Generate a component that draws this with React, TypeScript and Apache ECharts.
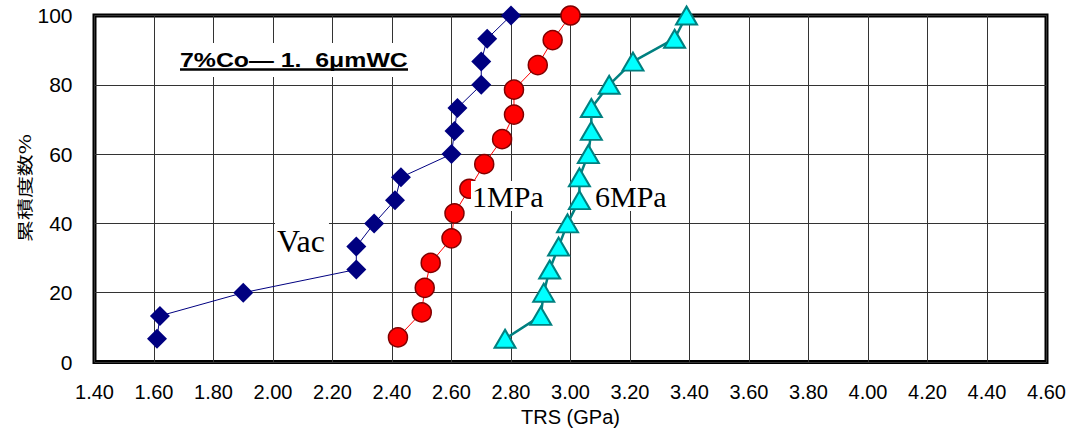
import React, { useEffect, useRef } from "react";
import * as echarts from "echarts";

// Tick labels
const xTicks = ["1.40", "1.60", "1.80", "2.00", "2.20", "2.40", "2.60", "2.80", "3.00", "3.20", "3.40", "3.60", "3.80", "4.00", "4.20", "4.40", "4.60"];
const yTicks = [0, 20, 40, 60, 80, 100];

// Vac series
const vacX = [1.61, 1.62, 1.90, 2.28, 2.28, 2.34, 2.41, 2.43, 2.60, 2.61, 2.62, 2.70, 2.70, 2.72, 2.80];
const vacY = [6.7, 13.3, 20.0, 26.7, 33.3, 40.0, 46.7, 53.3, 60.0, 66.7, 73.3, 80.0, 86.7, 93.3, 100];

// 1MPa series
const mpa1X = [2.42, 2.50, 2.51, 2.53, 2.60, 2.61, 2.66, 2.71, 2.77, 2.81, 2.81, 2.89, 2.94, 3.00];
const mpa1Y = [7.1, 14.3, 21.4, 28.6, 35.7, 42.9, 50.0, 57.1, 64.3, 71.4, 78.6, 85.7, 92.9, 100];

// 6MPa series
const mpa6X = [2.78, 2.90, 2.91, 2.93, 2.96, 2.99, 3.03, 3.03, 3.06, 3.07, 3.07, 3.13, 3.21, 3.35, 3.39];
const mpa6Y = [6.7, 13.3, 20.0, 26.7, 33.3, 40.0, 46.7, 53.3, 60.0, 66.7, 73.3, 80.0, 86.7, 93.3, 100];

const seriesNames = ["Vac", "1MPa", "6MPa"];
const titleText = "7%Co— 1.  6μmWC";
const yName = "累積度数%";
const xName = "TRS (GPa)";

const pair = (xs: number[], ys: number[]) => xs.map((x, i) => [x, ys[i]]);

function measure(text: string, font: string): number {
  const c = document.createElement("canvas").getContext("2d");
  if (!c) return text.length * 10;
  c.font = font;
  return c.measureText(text).width;
}

export default function App() {
  const ref = useRef<HTMLDivElement>(null);
  useEffect(() => {
    if (!ref.current) return;
    const chart = echarts.init(ref.current, null, { renderer: "svg" });
    const tickFont = '"Liberation Sans", sans-serif';
    const titleFont = 'bold 20px "Liberation Sans", sans-serif';
    const titleScale = 228 / measure(titleText, titleFont);
    const yNameFont = '16px "Noto Sans CJK JP", sans-serif';
    const yNameScale = 108 / measure(yName, yNameFont);
    chart.setOption({
      animation: false,
      backgroundColor: "#fff",
      grid: {
        left: 94.5,
        right: 25.5,
        top: 15.5,
        bottom: 70,
        show: true,
        borderColor: "#000",
        borderWidth: 4,
        backgroundColor: "transparent",
      },
      xAxis: {
        type: "value",
        min: 1.4,
        max: 4.6,
        interval: 0.2,
        name: xName,
        nameLocation: "middle",
        nameGap: 45,
        nameTextStyle: { fontFamily: '"Liberation Sans", sans-serif', fontSize: 20, color: "#000" },
        axisLine: { show: false },
        axisTick: { show: false },
        axisLabel: {
          margin: 20,
          color: "#000",
          fontSize: 20,
          fontFamily: tickFont,
          formatter: (v: number) => {
            const idx = Math.round((v - 1.4) / 0.2);
            return xTicks[idx] ?? v.toFixed(2);
          },
        },
        splitLine: { show: true, lineStyle: { color: "#333", width: 1 } },
      },
      yAxis: {
        type: "value",
        min: yTicks[0],
        max: yTicks[yTicks.length - 1],
        interval: 20,
        axisLine: { show: false },
        axisTick: { show: false },
        axisLabel: { margin: 22, color: "#000", fontSize: 21, fontFamily: tickFont },
        splitLine: { show: true, lineStyle: { color: "#333", width: 1 } },
      },
      series: [
        {
          name: seriesNames[0],
          type: "line",
          data: pair(vacX, vacY),
          symbol: "diamond",
          symbolSize: 20,
          showSymbol: true,
          itemStyle: { color: "#000080" },
          lineStyle: { color: "#000080", width: 1 },
          z: 3,
        },
        {
          name: seriesNames[1],
          type: "line",
          data: pair(mpa1X, mpa1Y),
          symbol: "circle",
          symbolSize: 19,
          showSymbol: true,
          itemStyle: { color: "#FF0000", borderColor: "#800000", borderWidth: 1.5 },
          lineStyle: { color: "#FF0000", width: 1 },
          z: 4,
        },
        {
          name: seriesNames[2],
          type: "line",
          data: pair(mpa6X, mpa6Y),
          symbol: "triangle",
          symbolSize: [21, 18],
          showSymbol: true,
          itemStyle: { color: "#00FFFF", borderColor: "#008080", borderWidth: 2 },
          lineStyle: { color: "#008080", width: 2.5 },
          z: 5,
        },
      ],
      graphic: [
        {
          type: "group",
          x: 24,
          y: 188,
          rotation: Math.PI / 2,
          children: [
            {
              type: "text",
              x: 0,
              y: 0,
              scaleX: yNameScale,
              style: {
                text: yName,
                font: yNameFont,
                fill: "#000",
                align: "center",
                verticalAlign: "middle",
              },
            },
          ],
        },
        {
          type: "rect",
          z: 99,
          shape: { x: 176, y: 43, width: 236, height: 34 },
          style: { fill: "#fff" },
        },
        {
          type: "text",
          x: 180,
          y: 60,
          z: 100,
          scaleX: titleScale,
          style: {
            text: titleText,
            font: titleFont,
            fill: "#000",
            align: "left",
            verticalAlign: "middle",
          },
        },
        {
          type: "line",
          z: 101,
          shape: { x1: 180, y1: 69.5, x2: 408, y2: 69.5 },
          style: { stroke: "#000", lineWidth: 2.5 },
        },
        {
          type: "text",
          x: 275,
          y: 241,
          z: 100,
          style: {
            text: seriesNames[0],
            font: '32px "Liberation Serif", serif',
            fill: "#000",
            align: "left",
            verticalAlign: "middle",
            backgroundColor: "#fff",
            padding: [2, 4, 2, 2],
          },
        },
        {
          type: "text",
          x: 471,
          y: 196,
          z: 100,
          style: {
            text: seriesNames[1],
            font: '30px "Liberation Serif", serif',
            fill: "#000",
            align: "left",
            verticalAlign: "middle",
            backgroundColor: "#fff",
            padding: [0, 2, 0, 1],
          },
        },
        {
          type: "text",
          x: 594,
          y: 196,
          z: 100,
          style: {
            text: seriesNames[2],
            font: '30px "Liberation Serif", serif',
            fill: "#000",
            align: "left",
            verticalAlign: "middle",
            backgroundColor: "#fff",
            padding: [0, 2, 0, 1],
          },
        },
      ],
    });
    return () => chart.dispose();
  }, []);
  return (
    <div
      ref={ref}
      style={{ position: "fixed", left: 0, top: 0, width: 1072, height: 432 }}
    />
  );
}
